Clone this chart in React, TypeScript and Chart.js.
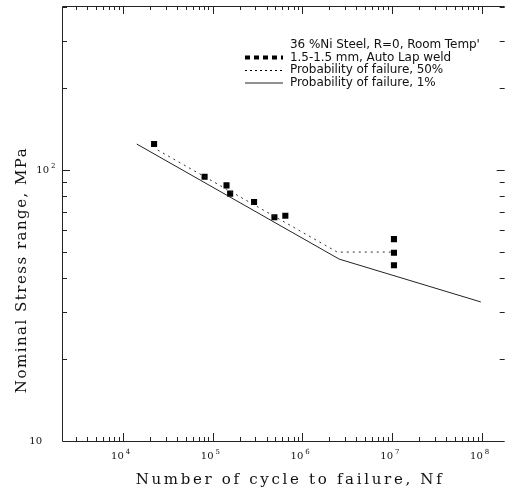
import React, { useEffect, useRef } from 'react';
import { Chart, registerables } from 'chart.js';
Chart.register(...registerables);

// Specimen results (cycles to failure, nominal stress range MPa)
const specimenCycles = [22300, 81500, 143000, 157000, 290000, 489000, 647000, 10500000, 10500000, 10500000];
const specimenStress = [124.8, 94.5, 87.8, 81.8, 76.2, 66.9, 67.8, 55.6, 49.5, 44.5];

// Probability of failure 50% curve
const p50Cycles = [24500, 2450000, 10500000];
const p50Stress = [118.5, 49.8, 49.8];

// Probability of failure 1% curve
const p1Cycles = [14300, 2580000, 97500000];
const p1Stress = [124.7, 46.9, 32.6];

// Axis ticks / labels
const xMajorExponents = [4, 5, 6, 7, 8];
const yMajorValues = [10, 100];
const yMajorExponents = ['', '2'];

const legendLabels = [
  "36 %Ni Steel, R=0, Room Temp'",
  '1.5-1.5 mm, Auto Lap weld',
  'Probability of failure, 50%',
  'Probability of failure, 1%',
];

const xTitle = 'Number of cycle to failure, Nf';
const yTitle = 'Nominal Stress range, MPa';

const X_MIN = 2100;
const X_MAX = 1.8e8;
const Y_MIN = 10;
const Y_MAX = 403;

function fitText(ctx: CanvasRenderingContext2D, text: string, target: number) {
  (ctx as any).letterSpacing = '0px';
  const w = ctx.measureText(text).width;
  const ls = (target - w) / Math.max(1, text.length - 1);
  (ctx as any).letterSpacing = ls.toFixed(2) + 'px';
}

const decorPlugin = {
  id: 'decor',
  afterDraw(chart: any) {
    const ctx: CanvasRenderingContext2D = chart.ctx;
    const xs = chart.scales.x;
    const ys = chart.scales.y;
    const { left, right, top, bottom } = chart.chartArea;
    ctx.save();
    ctx.strokeStyle = '#222';
    ctx.lineWidth = 1;
    // frame (left, bottom, top)
    ctx.beginPath();
    ctx.moveTo(left + 0.5, top + 0.5);
    ctx.lineTo(left + 0.5, bottom + 0.5);
    ctx.lineTo(right, bottom + 0.5);
    ctx.moveTo(left + 0.5, top + 0.5);
    ctx.lineTo(right, top + 0.5);
    ctx.stroke();

    // x ticks, bottom and top
    ctx.beginPath();
    for (let d = 3; d <= 8; d++) {
      for (let m = 1; m <= 9; m++) {
        const v = m * Math.pow(10, d);
        if (v <= X_MIN || v >= X_MAX) continue;
        const px = Math.round(xs.getPixelForValue(v)) + 0.5;
        const len = m === 1 ? 8 : 4;
        ctx.moveTo(px, bottom);
        ctx.lineTo(px, bottom - len);
        ctx.moveTo(px, top);
        ctx.lineTo(px, top + len);
      }
    }
    // y ticks, left and right
    for (let d = 1; d <= 2; d++) {
      for (let m = 1; m <= 9; m++) {
        const v = m * Math.pow(10, d);
        if (v <= Y_MIN || v >= Y_MAX) continue;
        const py = Math.round(ys.getPixelForValue(v)) + 0.5;
        const len = m === 1 ? 8 : 5;
        ctx.moveTo(left, py);
        ctx.lineTo(left + len, py);
        ctx.moveTo(right, py);
        ctx.lineTo(right - len, py);
      }
    }
    ctx.stroke();

    // tick labels
    ctx.fillStyle = '#111';
    ctx.textBaseline = 'middle';
    xMajorExponents.forEach((e) => {
      const px = xs.getPixelForValue(Math.pow(10, e));
      ctx.font = '10px "DejaVu Serif"';
      ctx.textAlign = 'right';
      ctx.fillText('10', px + 1, 456);
      ctx.font = '7px "DejaVu Serif"';
      ctx.textAlign = 'left';
      ctx.fillText(String(e), px + 3, 452);
    });
    yMajorValues.forEach((v, i) => {
      const py = ys.getPixelForValue(v);
      const sup = yMajorExponents[i];
      ctx.font = '10px "DejaVu Serif"';
      ctx.textAlign = 'right';
      ctx.fillText('10', sup ? left - 13 : left - 20, py);
      if (sup) {
        ctx.font = '7px "DejaVu Serif"';
        ctx.textAlign = 'left';
        ctx.fillText(sup, left - 11, py - 4);
      }
    });

    // axis titles
    ctx.font = '15px "DejaVu Serif"';
    ctx.textAlign = 'center';
    fitText(ctx, xTitle, 306);
    ctx.fillText(xTitle, 290, 480);
    ctx.save();
    ctx.translate(22, 270);
    ctx.rotate(-Math.PI / 2);
    fitText(ctx, yTitle, 245);
    ctx.fillText(yTitle, 0, 0);
    ctx.restore();
    (ctx as any).letterSpacing = '0px';

    // legend
    const rowsY = [45, 57.5, 70, 82.5];
    const sx0 = 245, sx1 = 283, tx = 290;
    ctx.font = '12px "DejaVu Sans"';
    ctx.textAlign = 'left';
    fitText(ctx, legendLabels[0], 190);
    legendLabels.forEach((t, i) => ctx.fillText(t, tx, rowsY[i]));
    (ctx as any).letterSpacing = '0px';
    // row 2 sample: thick squares
    ctx.strokeStyle = '#000';
    ctx.lineWidth = 4;
    ctx.setLineDash([5, 4]);
    ctx.beginPath();
    ctx.moveTo(sx0, rowsY[1]);
    ctx.lineTo(sx1, rowsY[1]);
    ctx.stroke();
    // row 3: dotted
    ctx.lineWidth = 1;
    ctx.setLineDash([2, 3]);
    ctx.beginPath();
    ctx.moveTo(sx0, rowsY[2] + 0.5);
    ctx.lineTo(sx1, rowsY[2] + 0.5);
    ctx.stroke();
    // row 4: solid
    ctx.setLineDash([]);
    ctx.strokeStyle = '#222';
    ctx.beginPath();
    ctx.moveTo(sx0, rowsY[3] + 0.5);
    ctx.lineTo(sx1, rowsY[3] + 0.5);
    ctx.stroke();
    ctx.restore();
  },
};

export default function App() {
  const ref = useRef<HTMLCanvasElement | null>(null);
  useEffect(() => {
    if (!ref.current) return;
    const chart = new Chart(ref.current, {
      type: 'scatter',
      data: {
        datasets: [
          {
            label: legendLabels[2],
            data: p50Cycles.map((x, i) => ({ x, y: p50Stress[i] })),
            showLine: true,
            borderColor: '#333',
            borderWidth: 1,
            borderDash: [2, 4],
            pointRadius: 0,
          },
          {
            label: legendLabels[3],
            data: p1Cycles.map((x, i) => ({ x, y: p1Stress[i] })),
            showLine: true,
            borderColor: '#222',
            borderWidth: 1,
            pointRadius: 0,
          },
          {
            label: legendLabels[1],
            data: specimenCycles.map((x, i) => ({ x, y: specimenStress[i] })),
            showLine: false,
            pointStyle: 'rect',
            pointRadius: 4.3,
            backgroundColor: '#000',
            borderColor: '#000',
            borderWidth: 0,
          },
        ],
      },
      options: {
        responsive: false,
        animation: false,
        layout: { padding: { left: 62, top: 6, right: 3, bottom: 49 } },
        plugins: { legend: { display: false }, tooltip: { enabled: false }, title: { display: false } },
        scales: {
          x: { type: 'logarithmic', min: X_MIN, max: X_MAX, display: false },
          y: { type: 'logarithmic', min: Y_MIN, max: Y_MAX, display: false },
        },
      },
      plugins: [decorPlugin],
    });
    return () => chart.destroy();
  }, []);
  return (
    <div style={{ position: 'absolute', left: 0, top: 0, width: 509, height: 490, background: '#fff' }}>
      <canvas ref={ref} width={509} height={490} style={{ display: 'block' }} />
    </div>
  );
}
